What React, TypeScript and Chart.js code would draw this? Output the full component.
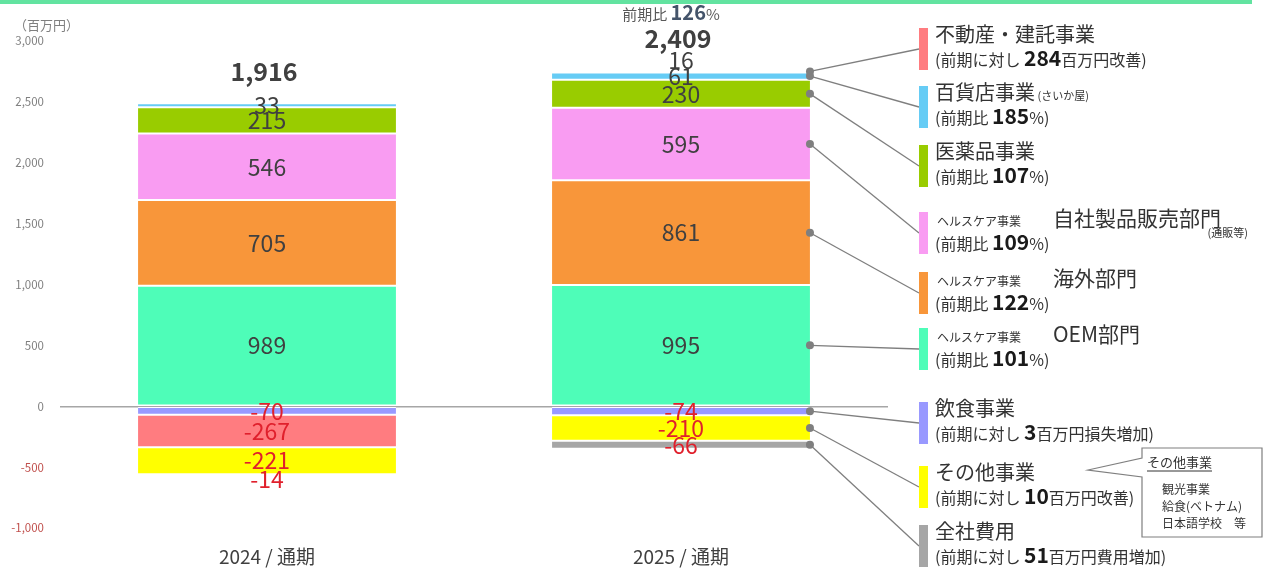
import React, { useEffect, useRef } from 'react';
import { Chart, registerables } from 'chart.js';

Chart.register(...registerables);

const FONT = '"Noto Sans CJK JP", "Noto Sans", sans-serif';

const categories = ['2024 / 通期', '2025 / 通期'];

const seriesNames = [
  'ヘルスケア事業 OEM部門',
  'ヘルスケア事業 海外部門',
  'ヘルスケア事業 自社製品販売部門',
  '医薬品事業',
  '百貨店事業',
  '飲食事業',
  '不動産・建託事業',
  'その他事業',
  '全社費用',
];
const seriesColors = ['#4efdb8', '#f8963a', '#f99cf2', '#99cc00', '#66ccf5', '#9999ff', '#ff7c80', '#ffff00', '#a6a6a6'];

const oemValues = [989, 995];
const overseasValues = [705, 861];
const directSalesValues = [546, 595];
const pharmaValues = [215, 230];
const deptStoreValues = [33, 61];
const foodValues = [-70, -74];
const realEstateValues = [-267, 16];
const otherValues = [-221, -210];
const corporateValues = [-14, -66];

const totalLabels = ['1,916', '2,409'];
const growthLabels = ['', '126'];

const yTicks = [-1000, -500, 0, 500, 1000, 1500, 2000, 2500, 3000];

// legend (top to bottom), referencing series index
const legendSeries = [6, 4, 3, 2, 1, 0, 5, 7, 8];
const legendPrefix = ['', '', '', 'ヘルスケア事業', 'ヘルスケア事業', 'ヘルスケア事業', '', '', ''];
const legendTitle = ['不動産・建託事業', '百貨店事業', '医薬品事業', '自社製品販売部門', '海外部門', 'OEM部門', '飲食事業', 'その他事業', '全社費用'];
const legendSuffix = ['', '(さいか屋)', '', '', '', '', '', '', ''];
const legendNoteLead = ['(前期に対し ', '(前期比 ', '(前期比 ', '(前期比 ', '(前期比 ', '(前期比 ', '(前期に対し ', '(前期に対し ', '(前期に対し '];
const legendNoteValue = ['284', '185', '107', '109', '122', '101', '3', '10', '51'];
const legendNoteTail = ['百万円改善)', '%)', '%)', '%)', '%)', '%)', '百万円損失増加)', '百万円改善)', '百万円費用増加)'];
const legendTops = [28, 86, 145, 212, 272, 328, 402, 466, 525];

const calloutTitle = 'その他事業';
const calloutLines = ['観光事業', '給食(ベトナム)', '日本語学校　等'];

const seriesValues = [
  oemValues, overseasValues, directSalesValues, pharmaValues, deptStoreValues,
  foodValues, realEstateValues, otherValues, corporateValues,
];

type Run = { t: string; f: string; c: string };

function drawRuns(ctx: CanvasRenderingContext2D, x: number, y: number, runs: Run[], align: 'left' | 'center' = 'left') {
  ctx.textBaseline = 'alphabetic';
  ctx.textAlign = 'left';
  let total = 0;
  runs.forEach((r) => { ctx.font = r.f; total += ctx.measureText(r.t).width; });
  let cx = align === 'center' ? x - total / 2 : x;
  runs.forEach((r) => {
    ctx.font = r.f;
    ctx.fillStyle = r.c;
    ctx.fillText(r.t, cx, y);
    cx += ctx.measureText(r.t).width;
  });
}

const labelPlugin = {
  id: 'segLabels',
  beforeDraw(chart: any) {
    const ctx = chart.ctx;
    ctx.save();
    ctx.fillStyle = '#62e3a0';
    ctx.fillRect(0, 0, 1252, 4);
    ctx.restore();
  },
  afterDatasetsDraw(chart: any) {
    const ctx: CanvasRenderingContext2D = chart.ctx;
    ctx.save();
    ctx.font = `23px ${FONT}`;
    ctx.textAlign = 'center';
    ctx.textBaseline = 'middle';
    chart.data.datasets.forEach((ds: any, di: number) => {
      const meta = chart.getDatasetMeta(di);
      meta.data.forEach((el: any, i: number) => {
        const v = ds.data[i] as number;
        const h = Math.abs(el.base - el.y);
        let y = (el.y + el.base) / 2;
        if (h < 3) y += v > 0 ? -11 : 4;
        ctx.fillStyle = v < 0 ? '#e0202c' : '#404040';
        ctx.fillText(String(v), el.x, y);
      });
    });
    // totals
    const yScale = chart.scales.y;
    categories.forEach((_, i) => {
      let pos = 0;
      chart.data.datasets.forEach((ds: any) => { const v = ds.data[i]; if (v > 0) pos += v; });
      const topY = yScale.getPixelForValue(pos);
      const x = chart.getDatasetMeta(0).data[i].x - 3;
      const ty = topY - 32;
      ctx.font = `bold 25px ${FONT}`;
      ctx.fillStyle = '#404040';
      ctx.textAlign = 'center';
      ctx.textBaseline = 'middle';
      ctx.fillText(totalLabels[i], x, ty);
      if (growthLabels[i]) {
        drawRuns(ctx, x - 7, ty - 18, [
          { t: '前期比 ', f: `15px ${FONT}`, c: '#595959' },
          { t: growthLabels[i], f: `bold 20px ${FONT}`, c: '#44546a' },
          { t: '%', f: `15px ${FONT}`, c: '#595959' },
        ], 'center');
      }
    });
    ctx.restore();
  },
  afterDraw(chart: any) {
    const ctx: CanvasRenderingContext2D = chart.ctx;
    ctx.save();
    // unit label
    ctx.font = `13px ${FONT}`;
    ctx.fillStyle = '#7f7f7f';
    ctx.textAlign = 'left';
    ctx.textBaseline = 'middle';
    ctx.fillText('（百万円）', 14, 25);

    legendSeries.forEach((di, k) => {
      const top = legendTops[k];
      const el: any = chart.getDatasetMeta(di).data[1];
      const sx = el.x + el.width / 2;
      const sy = (el.y + el.base) / 2;
      ctx.strokeStyle = '#7f7f7f';
      ctx.lineWidth = 1.3;
      ctx.beginPath();
      ctx.moveTo(sx, sy);
      ctx.lineTo(919, top + 21);
      ctx.stroke();
      ctx.fillStyle = '#7f7f7f';
      ctx.beginPath();
      ctx.arc(sx, sy, 4, 0, Math.PI * 2);
      ctx.fill();
      ctx.fillStyle = seriesColors[di];
      ctx.fillRect(919, top, 9, 42);

      const titleY = top + 14;
      if (legendPrefix[k]) {
        drawRuns(ctx, 937, titleY, [{ t: legendPrefix[k], f: `12px ${FONT}`, c: '#333333' }]);
        drawRuns(ctx, 1053, titleY, [{ t: legendTitle[k], f: `21px ${FONT}`, c: '#333333' }]);
      } else {
        const runs: Run[] = [{ t: legendTitle[k], f: `20px ${FONT}`, c: '#333333' }];
        if (legendSuffix[k]) runs.push({ t: ' ' + legendSuffix[k], f: `11px ${FONT}`, c: '#333333' });
        drawRuns(ctx, 935, titleY, runs);
      }
      drawRuns(ctx, 935, top + 38, [
        { t: legendNoteLead[k], f: `16px ${FONT}`, c: '#333333' },
        { t: legendNoteValue[k], f: `bold 21px ${FONT}`, c: '#1a1a1a' },
        { t: legendNoteTail[k], f: `16px ${FONT}`, c: '#333333' },
      ]);
    });
    // (通販等)
    ctx.font = `11px ${FONT}`;
    ctx.fillStyle = '#333333';
    ctx.textAlign = 'right';
    ctx.textBaseline = 'middle';
    ctx.fillText('(通販等)', 1248, 233);

    // callout
    ctx.strokeStyle = '#7f7f7f';
    ctx.lineWidth = 1.2;
    ctx.fillStyle = '#ffffff';
    ctx.beginPath();
    ctx.moveTo(1142, 448);
    ctx.lineTo(1262, 448);
    ctx.lineTo(1262, 537);
    ctx.lineTo(1142, 537);
    ctx.lineTo(1142, 477);
    ctx.lineTo(1088, 470);
    ctx.lineTo(1142, 458);
    ctx.closePath();
    ctx.fill();
    ctx.stroke();
    ctx.fillStyle = '#333333';
    ctx.textAlign = 'left';
    ctx.textBaseline = 'middle';
    ctx.font = `13px ${FONT}`;
    ctx.fillText(calloutTitle, 1147, 462);
    const w = ctx.measureText(calloutTitle).width;
    ctx.strokeStyle = '#333333';
    ctx.lineWidth = 1;
    ctx.beginPath();
    ctx.moveTo(1147, 471);
    ctx.lineTo(1147 + w, 471);
    ctx.stroke();
    ctx.font = `12px ${FONT}`;
    calloutLines.forEach((t, i) => {
      ctx.fillText(t, 1162, 489 + i * 17);
    });
    ctx.restore();
  },
};

export default function App() {
  const ref = useRef<HTMLCanvasElement>(null);
  useEffect(() => {
    if (!ref.current) return;
    Chart.defaults.font.family = FONT;
    const chart = new Chart(ref.current, {
      type: 'bar',
      data: {
        labels: categories,
        datasets: seriesNames.map((name, i) => ({
          label: name,
          data: seriesValues[i],
          backgroundColor: seriesColors[i],
          borderColor: '#ffffff',
          borderWidth: { top: 1, bottom: 1, left: 0, right: 0 },
          borderSkipped: false,
          barPercentage: 0.623,
          categoryPercentage: 1,
        })),
      },
      options: {
        responsive: false,
        animation: false,
        layout: { padding: { top: 41, right: 381, left: 0, bottom: 0 } },
        plugins: { legend: { display: false }, tooltip: { enabled: false } },
        scales: {
          x: {
            stacked: true,
            grid: { display: false },
            border: { display: false },
            ticks: { color: '#404040', font: { size: 19, family: FONT }, padding: 9 },
            afterFit: (s: any) => { s.height = 41; },
          },
          y: {
            stacked: true,
            min: -1000,
            max: 3000,
            afterBuildTicks: (s: any) => { s.ticks = yTicks.map((v) => ({ value: v })); },
            afterFit: (s: any) => { s.width = 60; },
            border: { display: false },
            grid: {
              drawTicks: false,
              color: (c: any) => (c.tick && c.tick.value === 0 ? '#a6a6a6' : 'rgba(0,0,0,0)'),
              lineWidth: 1.5,
            },
            ticks: {
              padding: 16,
              font: { size: 11.5, family: FONT },
              color: (c: any) => (c.tick && c.tick.value < 0 ? '#c0504d' : '#7f7f7f'),
              callback: (v: any) => Number(v).toLocaleString('en-US'),
            },
          },
        },
      },
      plugins: [labelPlugin],
    } as any);
    return () => chart.destroy();
  }, []);
  return (
    <canvas
      ref={ref}
      width={1269}
      height={569}
      style={{ position: 'fixed', left: 0, top: 0, width: 1269, height: 569 }}
    />
  );
}
